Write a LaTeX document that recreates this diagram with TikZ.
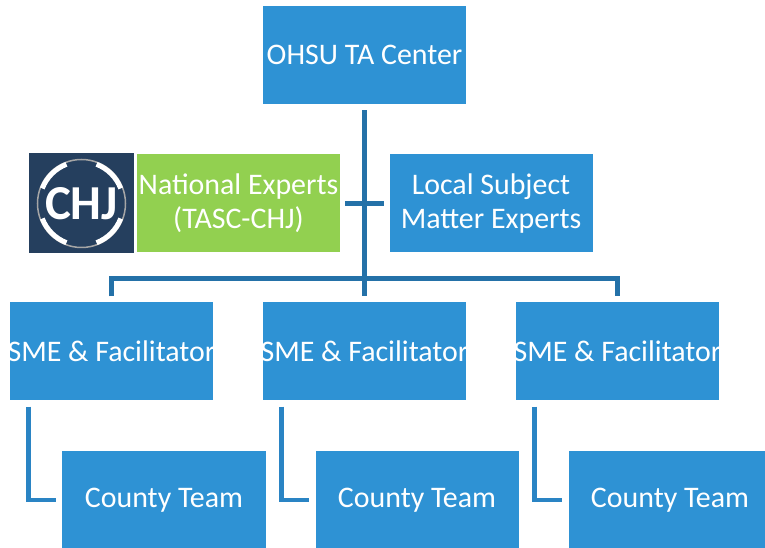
\documentclass[tikz,border=0pt]{standalone}
\usepackage{fontspec}
\setmainfont{Carlito}
\usetikzlibrary{positioning}
\definecolor{boxblue}{RGB}{46,146,212}
\definecolor{linkblue}{RGB}{36,113,168}
\definecolor{sublinkblue}{RGB}{42,132,196}
\definecolor{natgreen}{RGB}{146,208,80}
\definecolor{logonavy}{RGB}{37,63,94}
\tikzset{
    box/.style={fill=boxblue,text=white,minimum width=203bp,minimum height=98bp,inner sep=0pt,align=center,font=\fontsize{30}{34}\selectfont},
    link/.style={draw=linkblue,line width=4.5bp},
    sublink/.style={draw=sublinkblue,line width=4.5bp,shorten <=6bp,shorten >=6bp}
}
\begin{document}
\begin{tikzpicture}[-,x=1bp,y=1bp,node distance=253bp]
    \useasboundingbox (0,0) rectangle (765,548);
    \node [box] (ohsu) at (364.5,493) {OHSU TA Center};
    \node [box,fill=natgreen,below left of = ohsu,xshift=52.9bp,yshift=30.4bp] (natl) {National Experts\\(TASC-CHJ)};
    \node [box,right of = natl,xshift=-0.5bp] (local) {Local Subject\\Matter Experts};
    \node [fill=logonavy,text=white,minimum width=105bp,minimum height=100bp,inner sep=0pt,font=\fontsize{49}{49}\selectfont\bfseries,left of = natl,xshift=96bp] (logo) {CHJ};
    \node [box,below of = ohsu,yshift=-43.5bp] (sme2) {\makebox[0pt]{SME \& Facilitator}};
    \node [box,left of = sme2] (sme1) {\makebox[0pt]{SME \& Facilitator}};
    \node [box,right of = sme2] (sme3) {\makebox[0pt]{SME \& Facilitator}};
    \node [box,below of = sme1,xshift=52.5bp,yshift=104.5bp] (county1) {County Team};
    \node [box,below of = sme2,xshift=52.5bp,yshift=104.5bp] (county2) {County Team};
    \node [box,below of = sme3,xshift=52.5bp,yshift=104.5bp] (county3) {County Team};

    % logo ring
    \draw [gray!70,line width=1.5bp] (logo.center) circle (44bp);
    \foreach \a in {45,135,225,315}
        \draw [white,line width=5bp] ([shift={(\a-24:42bp)}]logo.center) arc (\a-24:\a+24:42bp);

    \path
        (ohsu) edge [link,shorten <=6bp,shorten >=6bp] (sme2)
        (natl) edge [link,shorten <=5bp,shorten >=5bp] (local)
    ;
    \draw [link,shorten <=6bp,shorten >=6bp] (sme1) |- ([yshift=24bp]sme2.north) -| (sme3);

    \draw [sublink] ([xshift=18.5bp]sme1.south west) |- (county1);
    \draw [sublink] ([xshift=18.5bp]sme2.south west) |- (county2);
    \draw [sublink] ([xshift=18.5bp]sme3.south west) |- (county3);
\end{tikzpicture}
\end{document}
